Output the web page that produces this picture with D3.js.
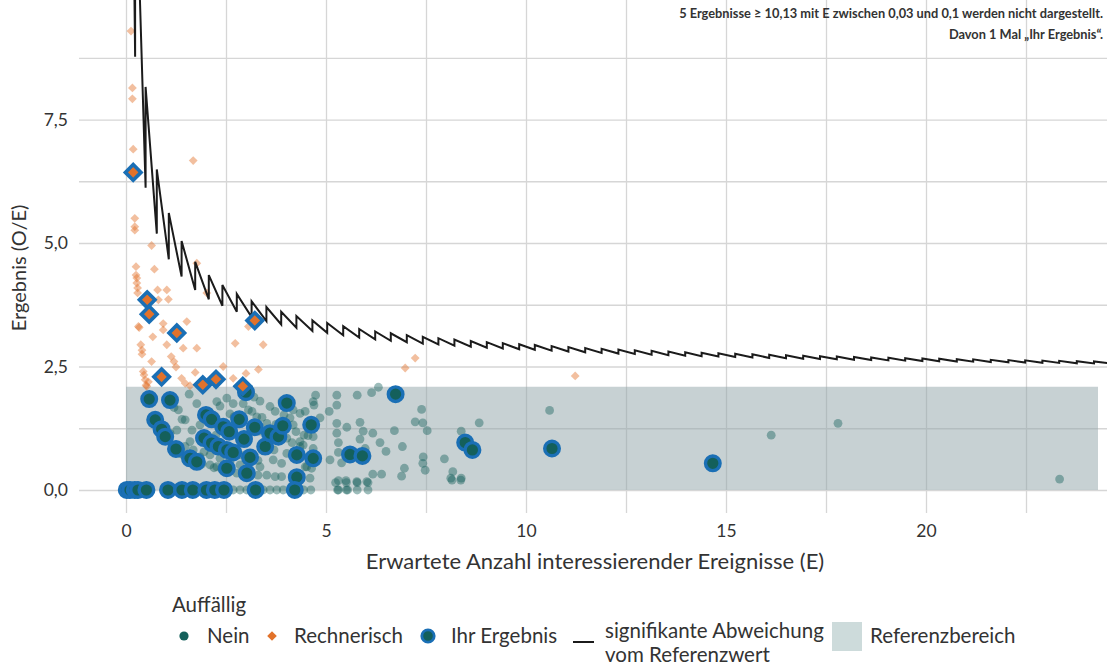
<!DOCTYPE html>
<html><head><meta charset="utf-8">
<script src="https://cdn.jsdelivr.net/npm/d3@7"></script>
<style>
body{margin:0;background:#fff;}
text{font-family:Lato,"Open Sans",sans-serif;fill:#333;}
</style>
</head><body>
<svg id="chart" width="1107" height="669"></svg>
<script>
// ---------- data ----------
const xTicks = [0, 5, 10, 15, 20];
const xTickLabels = ["0", "5", "10", "15", "20"];
const yTicks = [0, 2.5, 5, 7.5];
const yTickLabels = ["0,0", "2,5", "5,0", "7,5"];
const gridX = [0, 2.5, 5, 7.5, 10, 12.5, 15, 17.5, 20, 22.5];
const gridY = [0, 1.25, 2.5, 3.75, 5, 6.25, 7.5, 8.75];

const refRangeE = [0, 24.3];
const refRangeV = [0, 2.09];

// not conspicuous ("Nein")
const neinE = [4.74,4.70,4.48,4.85,5.27,5.27,5.78,6.14,6.31,5.08,5.27,5.27,5.52,5.85,5.93,6.17,5.31,5.85,6.35,6.50,6.71,6.91,7.23,7.39,7.42,7.53,7.43,7.42,7.48,7.96,8.17,8.12,8.38,8.38,8.83,6.96,6.89,6.39,6.17,6.02,5.77,5.50,5.31,5.31,5.54,5.10,5.31,5.39,5.98,4.60,4.64,4.68,4.48,4.35,4.45,4.68,4.43,
  1.58,1.77,1.31,1.48,1.85,2.27,2.52,2.68,2.93,3.35,3.60,3.73,4.18,4.35,4.68,2.10,2.27,2.77,3.52,3.73,3.89,1.43,1.85,2.85,3.35,3.68,3.89,4.02,4.52,3.56,4.02,4.35,3.27,3.52,4.18,3.06,1.85,1.60,1.27,1.10,1.48,1.68,2.10,2.35,2.60,2.85,
  1.35,1.52,1.90,2.20,2.40,2.95,3.30,1.20,1.40,1.65,1.90,2.20,2.45,2.70,3.15,3.40,3.75,3.95,4.10,2.35,2.60,3.20,3.90,4.25,4.55,3.70,4.15,4.40,3.30,2.75,3.05,3.35,1.95,2.25,
  2.68,2.85,3.02,3.43,3.60,3.77,3.93,4.44,4.62,5.29,5.51,5.78,6.05,5.24,5.51,5.78,6.05,8.15,8.37,
  10.59,16.13,17.80,23.34];
const neinV = [1.92,1.72,1.59,1.46,1.92,1.72,1.92,1.97,2.08,1.59,1.35,1.15,1.27,1.37,1.19,1.15,0.96,1.03,0.96,0.78,1.20,0.88,1.38,1.63,1.36,1.20,0.67,0.54,0.40,0.63,0.37,0.24,0.24,1.19,1.36,0.44,0.28,0.32,0.32,0.17,0.17,0.19,0.19,0,0,0.61,0.76,0.55,0.84,0.24,0.44,0.84,0.47,0.88,1.11,1.08,0.91,
  1.94,1.75,1.62,1.42,1.32,1.79,1.86,1.75,1.75,1.80,1.69,1.59,1.62,1.55,1.79,0.51,0.47,0.34,0.30,0.27,0.27,0.71,0.67,0.51,0.47,0.61,0.54,0.74,0.47,1.11,1.05,0.98,1.48,1.35,1.32,1.62,1.01,0.98,1.21,1.15,0.88,0.81,0.71,0.64,0.57,0.71,
  0.74,0.66,0.53,0.45,0.42,0.34,0.30,1.67,1.43,1.21,1.05,1.36,1.22,1.48,1.59,1.47,1.33,1.52,1.46,1.70,1.54,1.88,1.80,1.18,1.10,0.81,0.96,0.68,0.60,0.73,0.98,1.19,0.77,1.11,
  0,0,0,0,0,0,0,0,0,0,0,0,0,0.15,0.15,0.15,0.15,0.20,0.20,
  1.61,1.11,1.35,0.22];

// arithmetically conspicuous ("Rechnerisch")
const rechE = [0.125,0.16,0.16,0.18,1.68,0.22,0.22,0.22,0.64,1.77,0.25,0.25,0.27,0.27,0.29,0.29,0.71,1.02,1.06,2.02,0.79,0.81,0.93,1.52,0.31,0.33,0.93,0.67,1.02,1.43,1.77,0.37,0.40,0.40,1.13,1.20,1.25,0.64,2.73,3.06,3.43,0.43,0.45,0.48,0.50,0.52,1.39,1.48,1.73,2.43,2.68,3.00,3.31,1.60,0.56,11.23,7.23,6.98];
const rechV = [9.29,8.14,7.92,6.90,6.67,5.50,5.33,5.26,4.95,4.59,4.52,4.35,4.29,4.19,4.09,3.99,4.47,4.05,3.86,3.99,4.05,3.85,3.37,3.41,3.31,3.29,3.24,3.10,2.94,2.87,2.87,2.94,2.83,2.75,2.70,2.60,2.49,2.60,2.97,3.31,2.94,2.40,2.33,2.23,2.12,2.10,2.26,2.16,2.38,2.50,2.26,2.36,2.44,2.11,2.19,2.31,2.67,2.47];

// "Ihr Ergebnis" among "Nein"
const ihrNeinE = [0.58,1.10,0.73,0.89,0.98,1.25,1.60,1.77,2.00,2.14,2.43,2.58,2.83,1.95,2.14,2.31,2.52,2.68,2.95,3.22,3.10,3.48,3.60,3.81,3.92,4.63,4.02,2.52,3.02,4.27,4.27,4.68,5.60,5.91,6.74,8.48,8.66,10.65,14.67,3.00,
  0.02,0.10,0.22,0.30,0.51,1.05,1.40,1.67,2.01,2.22,2.45,3.24,4.22];
const ihrNeinV = [1.84,1.82,1.42,1.23,1.08,0.83,0.64,0.57,1.52,1.43,1.28,1.18,1.43,1.05,0.95,0.88,0.81,0.76,1.03,1.27,0.66,0.88,1.15,1.08,1.30,1.32,1.76,0.44,0.34,0.71,0.26,0.64,0.72,0.69,1.94,0.96,0.81,0.84,0.54,1.98,
  0,0,0,0,0,0,0,0,0,0,0,0,0];

// "Ihr Ergebnis" among "Rechnerisch"
const ihrRechE = [0.18,0.53,0.58,1.27,0.89,1.92,2.25,2.92,3.22];
const ihrRechV = [6.43,3.85,3.56,3.18,2.29,2.13,2.24,2.10,3.43];

// significance threshold (sawtooth): jump positions and values just before / after each jump
const sawE = [0.12,0.228,0.49,0.77,1.07,1.39,1.73,2.07,2.41,2.77,3.14,3.51,3.88,4.26,4.66,5.03,5.43,5.83,6.23,6.62,7.02,7.42,7.81,8.21,8.62,9.02,9.42,9.83,10.22,10.64,11.06,11.48,11.89,12.31,12.72,13.14,13.56,13.98,14.39,14.81,15.23,15.66,16.08,16.50,16.93,17.35,17.77,18.20,18.63,19.06,19.48,19.91,20.33,20.77,21.18,21.62,22.06,22.48,22.91,23.33,23.77,24.20,24.62];
const sawLow = [null,8.77,6.12,5.19,4.67,4.32,4.05,3.86,3.73,3.61,3.50,3.419,3.351,3.286,3.219,3.181,3.131,3.087,3.050,3.021,2.991,2.965,2.945,2.923,2.900,2.882,2.866,2.848,2.838,2.820,2.803,2.787,2.775,2.762,2.752,2.740,2.729,2.718,2.710,2.701,2.692,2.682,2.674,2.667,2.658,2.651,2.645,2.637,2.630,2.623,2.618,2.612,2.607,2.600,2.597,2.590,2.584,2.580,2.575,2.572,2.566,2.562,2.559];
const sawHigh = [16.67,13.16,8.16,6.49,5.61,5.04,4.62,4.35,4.15,3.97,3.82,3.704,3.608,3.521,3.433,3.380,3.315,3.259,3.210,3.172,3.134,3.100,3.073,3.045,3.016,2.993,2.972,2.950,2.935,2.914,2.893,2.875,2.860,2.843,2.830,2.816,2.802,2.790,2.780,2.768,2.758,2.746,2.736,2.727,2.717,2.709,2.701,2.692,2.684,2.676,2.669,2.662,2.656,2.648,2.644,2.636,2.629,2.625,2.619,2.615,2.608,2.603,2.600];

// ---------- drawing ----------
const svg = d3.select("#chart");
const P = {left: 79, right: 1107, top: 0, bottom: 513};
const x = d3.scaleLinear().domain([-1.175, 24.525]).range([P.left, P.right]);
const y = d3.scaleLinear().domain([-0.466, 9.92]).range([P.bottom, P.top]);

const COL = {
  teal: "#14605b", orange: "#e2722a", blue: "#1a6fb5",
  grid: "#d6d6d6", ref: "#8fa3a8"
};

svg.append("defs").append("clipPath").attr("id", "clip")
  .append("rect").attr("x", P.left).attr("y", P.top)
  .attr("width", P.right - P.left).attr("height", P.bottom - P.top);

// grid
const gx = svg.append("g").attr("transform", `translate(0,${P.bottom})`)
  .call(d3.axisBottom(x).tickValues(gridX).tickSize(-(P.bottom - P.top)).tickFormat(""));
gx.select(".domain").remove();
gx.selectAll("line").attr("stroke", COL.grid).attr("stroke-width", 1.3);
const gy = svg.append("g").attr("transform", `translate(${P.left},0)`)
  .call(d3.axisLeft(y).tickValues(gridY).tickSize(-(P.right - P.left)).tickFormat(""));
gy.select(".domain").remove();
gy.selectAll("line").attr("stroke", COL.grid).attr("stroke-width", 1.3);

// axes labels
const ax = svg.append("g").attr("transform", `translate(0,${P.bottom})`)
  .call(d3.axisBottom(x).tickValues(xTicks).tickSize(0).tickPadding(12).tickFormat((d, i) => xTickLabels[i]));
ax.select(".domain").remove();
ax.selectAll("text").style("font-family", "Lato").style("font-size", "17.5px").attr("fill", "#333");
const ay = svg.append("g").attr("transform", `translate(${P.left},0)`)
  .call(d3.axisLeft(y).tickValues(yTicks).tickSize(0).tickPadding(11).tickFormat((d, i) => yTickLabels[i]));
ay.select(".domain").remove();
ay.selectAll("text").style("font-family", "Lato").style("font-size", "17.5px").attr("fill", "#333");

svg.append("text").attr("x", 595).attr("y", 569).attr("text-anchor", "middle")
  .style("font-size", "22px").text("Erwartete Anzahl interessierender Ereignisse (E)");
svg.append("text").attr("transform", "translate(26,268) rotate(-90)").attr("text-anchor", "middle")
  .style("font-size", "20px").text("Ergebnis (O/E)");

// data layer
const plot = svg.append("g").attr("clip-path", "url(#clip)");

plot.append("rect")
  .attr("x", x(refRangeE[0])).attr("width", x(refRangeE[1]) - x(refRangeE[0]))
  .attr("y", y(refRangeV[1])).attr("height", y(refRangeV[0]) - y(refRangeV[1]))
  .attr("fill", COL.ref).attr("fill-opacity", 0.5);

const diamond = (r) => `M0,${-r}L${r},0L0,${r}L${-r},0Z`;

plot.append("g").selectAll("circle").data(d3.range(neinE.length)).join("circle")
  .attr("cx", i => x(neinE[i])).attr("cy", i => y(neinV[i])).attr("r", 4.4)
  .attr("fill", COL.teal).attr("fill-opacity", 0.42);

plot.append("g").selectAll("path").data(d3.range(rechE.length)).join("path")
  .attr("transform", i => `translate(${x(rechE[i])},${y(rechV[i])})`)
  .attr("d", diamond(4.4)).attr("fill", COL.orange).attr("fill-opacity", 0.45);

// threshold line
const sawPts = [];
sawE.forEach((e, i) => {
  if (sawLow[i] !== null) sawPts.push([e, sawLow[i]]);
  sawPts.push([e, sawHigh[i]]);
});
plot.append("path").datum(sawPts)
  .attr("d", d3.line().x(d => x(d[0])).y(d => y(d[1])))
  .attr("fill", "none").attr("stroke", "#1b1b1b").attr("stroke-width", 2)
  .attr("stroke-linejoin", "miter");

// Ihr Ergebnis
plot.append("g").selectAll("circle").data(d3.range(ihrNeinE.length)).join("circle")
  .attr("cx", i => x(ihrNeinE[i])).attr("cy", i => y(ihrNeinV[i])).attr("r", 7.3)
  .attr("fill", COL.teal).attr("stroke", COL.blue).attr("stroke-width", 3.4);

plot.append("g").selectAll("path").data(d3.range(ihrRechE.length)).join("path")
  .attr("transform", i => `translate(${x(ihrRechE[i])},${y(ihrRechV[i])})`)
  .attr("d", diamond(7.8)).attr("fill", COL.orange).attr("stroke", COL.blue).attr("stroke-width", 3.6)
  .attr("stroke-linejoin", "miter");

// annotation
const ann = svg.append("g").style("font-size", "12.8px").style("font-weight", "700");
ann.append("text").attr("x", 1103).attr("y", 18).attr("text-anchor", "end").attr("fill", "#222")
  .text("5 Ergebnisse \u2265 10,13 mit E zwischen 0,03 und 0,1 werden nicht dargestellt.");
ann.append("text").attr("x", 1103).attr("y", 39).attr("text-anchor", "end").attr("fill", "#222")
  .text("Davon 1 Mal \u201EIhr Ergebnis\u201C.");

// legend
const lg = svg.append("g").style("font-size", "20.5px");
lg.append("text").attr("x", 172).attr("y", 612).text("Auffällig");
lg.append("circle").attr("cx", 184).attr("cy", 636).attr("r", 4.6).attr("fill", COL.teal);
lg.append("text").attr("x", 207).attr("y", 643).text("Nein");
lg.append("path").attr("transform", "translate(272,636)").attr("d", diamond(4.8)).attr("fill", COL.orange);
lg.append("text").attr("x", 294).attr("y", 643).text("Rechnerisch");
lg.append("circle").attr("cx", 428).attr("cy", 636).attr("r", 6.2).attr("fill", COL.teal)
  .attr("stroke", COL.blue).attr("stroke-width", 2.8);
lg.append("text").attr("x", 451).attr("y", 643).text("Ihr Ergebnis");
lg.append("line").attr("x1", 573).attr("x2", 594).attr("y1", 642).attr("y2", 642)
  .attr("stroke", "#1b1b1b").attr("stroke-width", 2);
lg.append("text").attr("x", 605).attr("y", 638).text("signifikante Abweichung");
lg.append("text").attr("x", 605).attr("y", 662).text("vom Referenzwert");
lg.append("rect").attr("x", 832).attr("y", 622).attr("width", 30).attr("height", 29).attr("fill", "#cddbdb");
lg.append("text").attr("x", 870).attr("y", 643).text("Referenzbereich");
</script>
</body></html>
